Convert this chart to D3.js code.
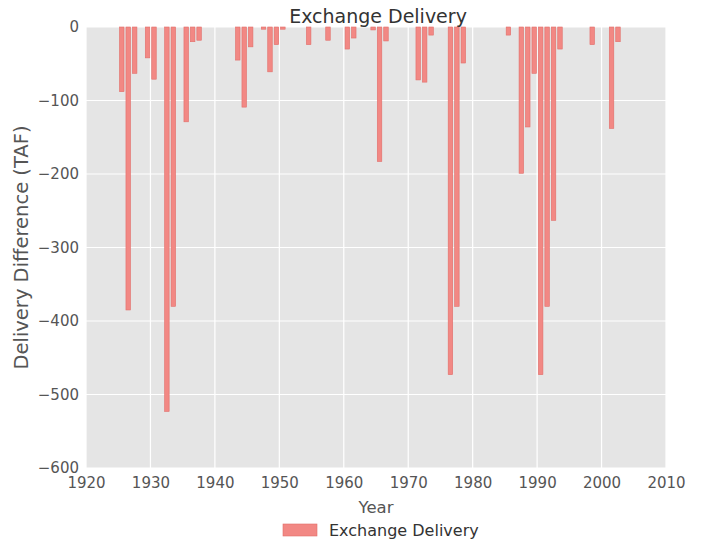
<!DOCTYPE html>
<html><head><meta charset="utf-8">
<script src="https://cdn.jsdelivr.net/npm/d3@7"></script>
<style>body{margin:0;background:#fff;}svg{display:block;}</style>
</head><body>
<script>
const years = [1925,1926,1927,1929,1930,1932,1933,1935,1936,1937,1943,1944,1945,1947,1948,1949,1950,1954,1957,1960,1961,1964,1965,1966,1971,1972,1973,1976,1977,1978,1985,1987,1988,1989,1990,1991,1992,1993,1998,2001,2002];
const values = [-88,-385,-63,-42,-71,-523,-380,-129,-20,-18,-45,-109,-27,-3,-61,-24,-3,-24,-18,-30,-15,-4,-183,-19,-72,-75,-11,-473,-380,-49,-11,-199,-136,-63,-473,-380,-263,-30,-24,-138,-20];
const xTicks = [1920,1930,1940,1950,1960,1970,1980,1990,2000,2010];
const yTicks = [0,-100,-200,-300,-400,-500,-600];
const title = "Exchange Delivery";
const xLabel = "Year";
const yLabel = "Delivery Difference (TAF)";
const seriesName = "Exchange Delivery";

const W = 704, H = 546;
const L = 86, R = 666, T = 27, B = 468;
const svg = d3.select("body").append("svg").attr("width", W).attr("height", H);
const x = d3.scaleLinear().domain([1920, 2010]).range([L, R]);
const y = d3.scaleLinear().domain([-600, 0]).range([B, T]);
const font = "'DejaVu Sans', sans-serif";
const barFill = "#f28884", barEdge = "#e26e6a";

svg.append("rect").attr("x", L).attr("y", T).attr("width", R - L).attr("height", B - T).attr("fill", "#e5e5e5");

const g = svg.append("g");
g.selectAll(".gx").data(xTicks).join("line")
  .attr("x1", d => x(d)).attr("x2", d => x(d)).attr("y1", T).attr("y2", B)
  .attr("stroke", "#fff").attr("stroke-width", 1.2);
g.selectAll(".gy").data(yTicks).join("line")
  .attr("x1", L).attr("x2", R).attr("y1", d => y(d)).attr("y2", d => y(d))
  .attr("stroke", "#fff").attr("stroke-width", 1.2);

const data = years.map((yr, i) => ({yr, v: values[i]}));
svg.append("g").selectAll("rect").data(data).join("rect")
  .attr("x", d => x(d.yr + 0.2))
  .attr("width", x(1920.7) - x(1920))
  .attr("y", y(0))
  .attr("height", d => y(d.v) - y(0))
  .attr("fill", barFill)
  .attr("stroke", barEdge)
  .attr("stroke-width", 0.6);

// axes
const xAxis = d3.axisBottom(x).tickValues(xTicks).tickFormat(d3.format("d")).tickSize(0).tickPadding(9);
const xa = svg.append("g").attr("transform", `translate(0,${B})`).call(xAxis);
xa.select(".domain").remove();
xa.selectAll("text").attr("font-family", font).attr("font-size", 15).attr("fill", "#555");

const yAxis = d3.axisLeft(y).tickValues(yTicks).tickFormat(d => d === 0 ? "0" : "\u2212" + Math.abs(d)).tickSize(0).tickPadding(7);
const ya = svg.append("g").attr("transform", `translate(${L},0)`).call(yAxis);
ya.select(".domain").remove();
ya.selectAll("text").attr("font-family", font).attr("font-size", 15).attr("fill", "#555");

svg.append("text").attr("x", (L + R) / 2 + 2).attr("y", 23).attr("text-anchor", "middle")
  .attr("font-family", font).attr("font-size", 19).attr("fill", "#333").text(title);
svg.append("text").attr("x", (L + R) / 2).attr("y", 513).attr("text-anchor", "middle")
  .attr("font-family", font).attr("font-size", 16.5).attr("fill", "#555").text(xLabel);
svg.append("text").attr("transform", `translate(28,${(T + B) / 2}) rotate(-90)`).attr("text-anchor", "middle")
  .attr("font-family", font).attr("font-size", 19.5).attr("fill", "#555").text(yLabel);

// legend
const lg = svg.append("g");
lg.append("rect").attr("x", 283).attr("y", 524).attr("width", 34).attr("height", 12)
  .attr("fill", barFill).attr("stroke", barEdge).attr("stroke-width", 0.6);
lg.append("text").attr("x", 329).attr("y", 536).attr("font-family", font).attr("font-size", 16)
  .attr("fill", "#333").text(seriesName);
</script>
</body></html>
